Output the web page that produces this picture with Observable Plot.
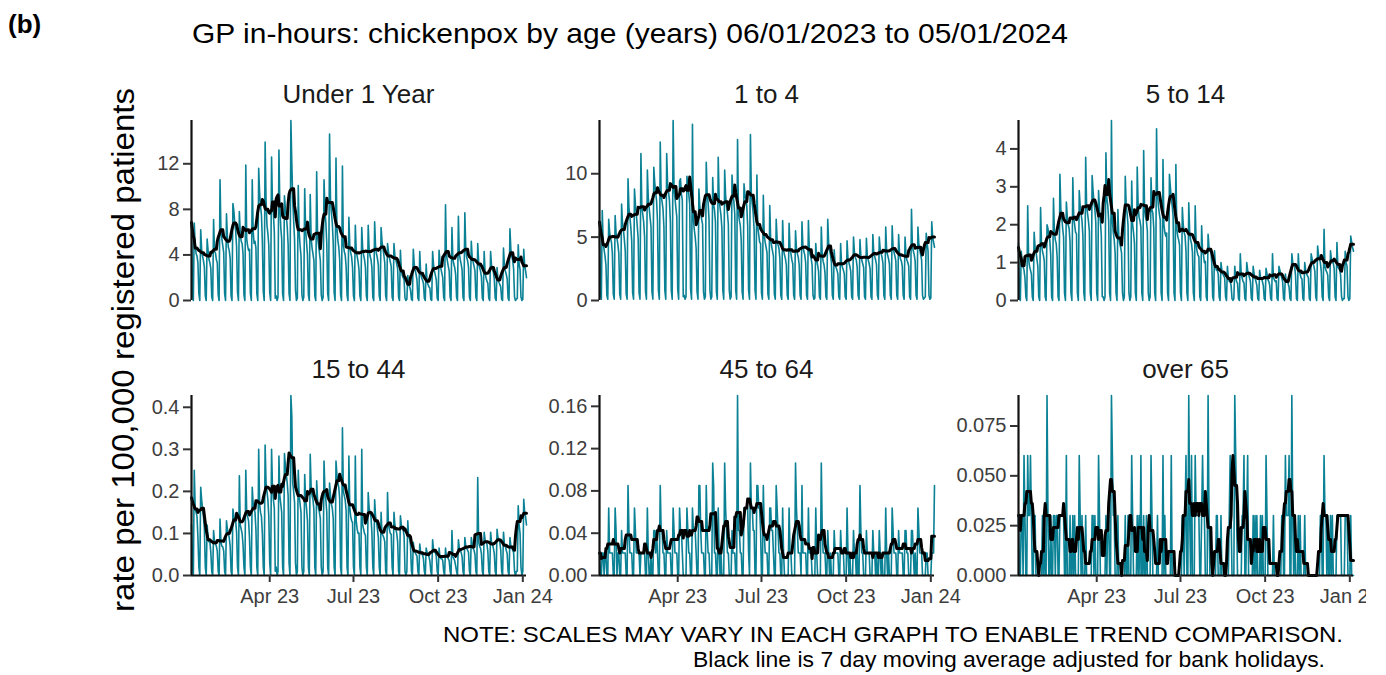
<!DOCTYPE html>
<html>
<head>
<meta charset="utf-8">
<script src="https://cdn.jsdelivr.net/npm/d3@7"></script>
<script src="https://cdn.jsdelivr.net/npm/@observablehq/plot@0.6"></script>
<style>
  html, body { margin: 0; padding: 0; background: #fff; }
  #root { position: relative; width: 1386px; height: 675px; overflow: hidden; background: #fff;
          font-family: "Liberation Sans", Arial, Helvetica, sans-serif; }
  .panel { position: absolute; overflow: hidden; }
  .panel svg text { font-size: 20px !important; font-family: "Liberation Sans", Arial, sans-serif !important; }
  #overlay { position: absolute; left: 0; top: 0; pointer-events: none; }
</style>
</head>
<body>
<div id="root"></div>
<script>
// ---------------- DATA (daily values, Fri 06/01/2023 .. Fri 05/01/2024) ----------------
// First row: Fri, Sat, Sun; then one row per week Mon..Sun; last row Mon..Fri.
const startDay = "2023-01-06";
const bankHolidays = ["2023-04-07","2023-04-10","2023-05-01","2023-05-08","2023-05-29","2023-08-28","2023-12-25","2023-12-26","2024-01-01"];

const under1 = [
6.9,0.5,0,
6.8,4.9,4.1,3.9,3.3,0.6,0,
6.2,4.5,3.9,3.5,2.9,0.4,0,
5.4,4.4,3.6,3.3,2.8,0.3,0,
7.1,4.3,4.2,3.6,3.3,0.5,0,
10.6,6.0,5.4,4.8,4.2,0.6,0,
7.6,5.6,4.7,4.4,3.7,0.4,0,
8.5,7.9,6.8,6.1,4.7,0.7,0,
7.8,5.9,5.2,5.0,4.1,0.5,0,
11.9,5.4,4.8,4.4,4.5,0.6,0,
10.6,6.1,5.0,5.2,4.6,0.6,0,
11.6,9.4,8.3,7.5,5.2,0.8,0,
13.9,8.8,6.6,5.9,4.8,0.7,0,
12.6,8.4,7.6,6.0,0.2,0.4,0,
0.3,13.2,8.2,6.4,5.4,0.6,0,
9.2,8.0,7.4,6.5,4.9,0.6,0,
15.8,12.1,8.8,7.0,5.3,0.9,0,
0.2,10.1,6.0,4.8,3.9,0.5,0,
0.3,9.8,6.2,5.1,4.0,0.5,0,
9.3,5.5,4.6,4.1,3.5,0.4,0,
11.3,5.6,4.9,4.2,3.5,0.5,0,
0.3,10.6,7.9,6.8,5.0,0.6,0,
14.6,8.9,7.7,6.8,5.0,0.7,0,
12.5,6.4,5.3,4.7,3.6,0.5,0,
11.8,4.9,4.3,4.0,3.0,0.5,0,
7.3,4.8,4.2,3.8,2.9,0.4,0,
6.6,4.4,3.9,3.4,2.7,0.4,0,
6.4,4.6,4.0,3.6,2.9,0.4,0,
6.6,4.5,3.9,3.6,2.9,0.3,0,
6.9,4.7,4.1,3.7,3.1,0.4,0,
6.4,5.2,4.6,4.0,3.3,0.4,0,
5.0,4.3,3.8,3.4,3.0,0.3,0,
5.0,3.9,3.6,3.2,2.8,0.3,0,
4.4,2.6,2.2,2.0,1.8,0.2,0,
0.1,2.2,1.4,1.2,0.9,0.1,0,
4.5,3.2,2.7,2.3,1.8,0.2,0,
4.3,2.4,2.0,1.8,1.5,0.2,0,
3.2,1.6,1.4,1.2,1.1,0.1,0,
4.3,3.1,2.6,2.2,1.8,0.2,0,
4.4,3.4,2.8,2.4,2.0,0.3,0,
8.4,4.0,3.5,3.0,2.6,0.3,0,
6.4,3.7,3.2,2.9,2.3,0.3,0,
7.4,4.1,3.6,3.2,2.7,0.3,0,
7.7,4.6,3.8,3.5,2.9,0.3,0,
5.2,3.8,3.4,3.0,2.6,0.3,0,
5.0,3.4,2.9,2.6,2.1,0.2,0,
4.3,2.5,2.0,1.7,1.5,0.2,0,
4.3,3.1,2.7,2.5,1.9,0.2,0,
2.9,1.9,1.6,1.4,1.2,0.1,0,
4.6,3.1,2.6,2.3,1.9,0.2,0,
6.3,4.5,3.9,3.5,2.8,0.3,0,
0.1,0.2,4.9,3.2,2.7,0.3,0,
0.1,4.5,3.1,2.6,2.0
];

const age1to4 = [
5.3,0.5,0.1,
7.1,4.6,4.0,3.5,2.8,0.4,0.1,
6.4,5.4,4.9,4.6,3.7,0.5,0.1,
6.7,5.3,4.9,4.4,3.7,0.5,0.1,
7.6,6.1,5.6,4.8,3.9,0.5,0.1,
9.6,7.3,6.6,5.8,4.7,0.6,0.1,
8.8,7.6,6.8,5.9,4.9,0.6,0.1,
11.6,7.4,6.8,6.2,5.0,0.7,0.1,
10.3,8.1,7.3,6.5,5.8,0.7,0.1,
10.5,9.3,8.5,7.9,6.3,0.8,0.1,
12.5,8.2,7.8,7.2,5.8,0.8,0.1,
11.6,9.2,8.6,7.9,6.2,0.8,0.1,
14.2,8.8,8.1,7.3,6.6,0.9,0.1,
9.4,9.6,8.4,7.9,0.3,0.4,0.1,
0.3,9.8,9.0,8.4,7.6,0.9,0.1,
13.9,6.4,5.6,5.0,4.1,0.7,0.1,
8.8,7.4,6.9,6.4,6.0,0.7,0.1,
0.3,10.9,8.4,7.7,6.4,0.8,0.1,
0.3,9.7,7.6,7.1,6.2,0.7,0.1,
11.3,8.0,7.3,6.7,5.7,0.8,0.1,
10.3,8.3,7.5,6.9,6.0,0.8,0.1,
0.3,9.9,8.4,7.8,6.8,0.8,0.1,
12.7,6.9,6.3,5.9,4.7,0.7,0.1,
9.2,8.4,8.0,7.5,5.9,0.8,0.1,
13.1,8.3,7.6,6.9,5.6,0.8,0.1,
9.9,5.8,5.2,4.6,4.5,0.6,0.1,
8.3,5.1,4.6,4.2,3.8,0.5,0.1,
7.5,4.8,4.3,3.9,3.5,0.5,0.1,
6.4,4.8,4.4,4.1,3.3,0.4,0.1,
6.3,4.0,3.6,3.3,2.8,0.4,0.1,
6.1,4.1,3.7,3.2,2.9,0.4,0.1,
5.5,4.1,3.7,3.4,2.8,0.4,0.1,
6.2,4.3,3.9,3.6,3.0,0.4,0.1,
6.3,4.0,3.6,3.3,2.8,0.4,0.1,
0.2,4.5,3.2,2.8,2.3,0.3,0.1,
5.8,3.6,3.1,2.8,2.2,0.3,0.1,
6.4,4.5,4.0,3.6,3.0,0.4,0.1,
4.0,2.9,2.6,2.4,2.1,0.3,0.1,
4.5,2.9,2.6,2.4,2.1,0.3,0.1,
4.7,3.3,3.0,2.7,2.3,0.3,0.1,
5.0,3.8,3.4,3.2,2.6,0.4,0.1,
4.8,3.5,3.2,2.9,2.6,0.3,0.1,
4.9,3.5,3.2,2.9,2.5,0.3,0.1,
5.2,3.8,3.5,3.2,2.8,0.4,0.1,
5.0,4.0,3.7,3.4,2.9,0.4,0.1,
5.8,3.9,3.6,3.3,2.9,0.4,0.1,
5.9,4.2,3.8,3.5,3.1,0.4,0.1,
5.2,3.7,3.3,3.1,2.7,0.4,0.1,
5.0,3.6,3.2,3.0,2.7,0.3,0.1,
7.2,4.2,3.9,3.6,3.1,0.4,0.1,
5.8,4.4,4.0,3.6,3.2,0.4,0.1,
0.2,0.3,5.3,4.5,3.9,0.4,0.1,
0.2,6.2,5.0,4.6,4.2
];

const age5to14 = [
1.5,0.1,0,
1.3,1.0,0.9,0.8,0.6,0.1,0,
2.5,1.1,0.9,0.8,0.7,0.1,0,
1.8,1.4,1.3,1.1,0.9,0.1,0,
2.45,1.5,1.3,1.2,1.05,0.1,0,
2.0,1.9,1.7,1.6,1.2,0.1,0,
2.7,1.8,1.6,1.5,1.15,0.1,0,
3.33,2.4,2.2,1.9,1.67,0.2,0,
2.6,2.2,2.0,1.9,1.55,0.2,0,
3.24,2.2,2.0,1.8,1.76,0.2,0,
2.9,2.5,2.3,2.1,1.7,0.2,0,
3.78,2.5,2.3,2.1,1.82,0.2,0,
3.3,2.9,2.6,2.4,2.05,0.2,0,
2.9,2.4,2.1,1.7,0.1,0.1,0,
0.1,3.9,2.7,2.5,2.1,0.2,0,
4.75,2.1,1.8,1.6,1.25,0.2,0,
2.4,1.7,1.5,1.4,1.25,0.2,0,
0.1,3.28,2.5,2.3,2.0,0.2,0,
0.1,3.15,2.0,1.8,1.5,0.2,0,
3.52,2.5,2.2,2.1,1.93,0.2,0,
3.96,2.4,2.2,2.1,1.84,0.2,0,
0.1,3.24,2.4,2.3,1.9,0.2,0,
4.53,2.8,2.5,2.3,2.12,0.2,0,
3.72,2.0,1.8,1.7,1.78,0.2,0,
3.33,3.0,2.7,2.5,2.22,0.2,0,
3.59,1.9,1.7,1.6,1.46,0.2,0,
2.45,2.0,1.8,1.7,1.3,0.2,0,
2.58,1.8,1.6,1.5,1.27,0.2,0,
2.5,1.5,1.3,1.2,1.15,0.1,0,
1.97,1.3,1.2,1.0,1.03,0.1,0,
1.75,1.4,1.3,1.3,1.0,0.1,0,
1.31,0.9,0.8,0.8,0.69,0.1,0,
1.0,0.8,0.7,0.65,0.6,0.1,0,
0.9,0.6,0.5,0.5,0.4,0.05,0,
0.05,0.9,0.6,0.5,0.45,0.05,0,
1.23,0.7,0.6,0.5,0.47,0.05,0,
1.0,0.8,0.7,0.6,0.5,0.05,0,
0.9,0.7,0.6,0.5,0.4,0.05,0,
0.8,0.6,0.6,0.5,0.4,0.05,0,
0.85,0.7,0.55,0.5,0.4,0.05,0,
1.23,0.6,0.55,0.5,0.52,0.05,0,
0.9,0.8,0.7,0.6,0.5,0.05,0,
0.7,0.5,0.5,0.45,0.35,0.05,0,
1.23,1.0,0.95,0.9,0.67,0.05,0,
1.23,0.8,0.7,0.6,0.57,0.05,0,
1.0,0.8,0.7,0.65,0.6,0.05,0,
1.23,1.1,1.0,0.9,0.77,0.1,0,
1.44,1.2,1.1,1.0,0.76,0.1,0,
1.88,0.9,0.8,0.75,0.67,0.1,0,
1.31,1.1,1.0,1.0,0.84,0.1,0,
1.53,0.9,0.85,0.8,0.67,0.1,0,
0.05,0.05,1.3,1.0,0.9,0.1,0,
0.05,1.7,1.55,1.4,1.3
];

const age15to44 = [
0.12,0.02,0,
0.25,0.16,0.15,0.14,0.09,0.02,0,
0.21,0.18,0.16,0.14,0.11,0.02,0,
0.12,0.09,0.08,0.08,0.055,0.01,0,
0.107,0.08,0.075,0.07,0.058,0.01,0,
0.134,0.08,0.07,0.068,0.058,0.01,0,
0.13,0.11,0.10,0.09,0.07,0.01,0,
0.158,0.14,0.13,0.13,0.102,0.02,0,
0.237,0.12,0.11,0.10,0.073,0.02,0,
0.25,0.15,0.14,0.13,0.09,0.02,0,
0.21,0.17,0.16,0.15,0.11,0.02,0,
0.30,0.17,0.15,0.14,0.10,0.02,0,
0.31,0.22,0.20,0.18,0.14,0.03,0,
0.30,0.21,0.18,0.16,0.01,0.02,0,
0.01,0.284,0.19,0.17,0.15,0.02,0,
0.29,0.26,0.24,0.22,0.19,0.03,0,
0.428,0.379,0.22,0.20,0.173,0.03,0,
0.01,0.25,0.19,0.17,0.15,0.02,0,
0.01,0.24,0.18,0.16,0.13,0.02,0,
0.288,0.21,0.19,0.18,0.157,0.02,0,
0.225,0.18,0.16,0.15,0.135,0.02,0,
0.01,0.272,0.20,0.18,0.15,0.02,0,
0.22,0.19,0.17,0.16,0.135,0.02,0,
0.272,0.24,0.22,0.21,0.183,0.02,0,
0.351,0.20,0.19,0.18,0.154,0.02,0,
0.284,0.16,0.14,0.13,0.126,0.02,0,
0.284,0.13,0.11,0.10,0.101,0.02,0,
0.30,0.12,0.11,0.10,0.095,0.02,0,
0.197,0.16,0.15,0.14,0.103,0.02,0,
0.18,0.14,0.13,0.11,0.09,0.02,0,
0.15,0.10,0.095,0.09,0.08,0.01,0,
0.197,0.12,0.11,0.10,0.098,0.02,0,
0.15,0.12,0.11,0.10,0.08,0.01,0,
0.142,0.12,0.11,0.11,0.093,0.01,0,
0.01,0.13,0.09,0.09,0.07,0.01,0,
0.079,0.06,0.055,0.05,0.046,0.01,0,
0.075,0.055,0.05,0.05,0.04,0.01,0,
0.065,0.055,0.05,0.045,0.035,0.01,0,
0.085,0.06,0.055,0.055,0.045,0.01,0,
0.065,0.045,0.04,0.04,0.035,0.01,0,
0.065,0.045,0.045,0.04,0.035,0.01,0,
0.107,0.045,0.04,0.035,0.023,0.01,0,
0.085,0.065,0.06,0.055,0.045,0.01,0,
0.09,0.07,0.065,0.06,0.055,0.01,0,
0.09,0.075,0.065,0.06,0.05,0.01,0,
0.233,0.08,0.07,0.065,0.052,0.01,0,
0.103,0.085,0.08,0.075,0.057,0.01,0,
0.103,0.08,0.075,0.065,0.052,0.01,0,
0.11,0.09,0.085,0.08,0.06,0.01,0,
0.103,0.075,0.07,0.06,0.052,0.01,0,
0.09,0.07,0.065,0.06,0.055,0.01,0,
0.01,0.01,0.166,0.12,0.10,0.02,0,
0.01,0.181,0.15,0.14,0.12
];

// 45 to 64 and over 65: daily case counts and the rate that one case represents
const ratePerCase45to64 = 0.02128;
const cases45to64 = [
1,0,0,
1,1,0,1,1,0,0,
3,1,1,1,1,0,0,
3,2,0,1,1,0,0,
2,1,1,1,1,0,0,
4,2,1,1,1,0,0,
3,2,1,1,1,1,0,
1,1,1,1,1,0,0,
3,1,0,0,1,0,0,
2,2,1,2,1,0,0,
4,2,2,1,1,0,0,
2,1,1,1,1,0,0,
3,2,1,1,1,0,0,
3,2,2,1,0,0,0,
0,3,2,1,1,0,0,
3,2,2,2,1,0,0,
4,4,2,1,1,1,0,
0,4,2,1,1,0,0,
0,5,4,1,1,0,0,
3,1,0,1,0,0,0,
5,3,2,1,1,0,0,
0,2,1,1,1,0,0,
8,2,2,1,1,0,0,
3,3,3,3,3,1,0,
5,3,3,2,2,0,0,
4,4,3,3,2,0,0,
4,2,1,1,1,0,0,
3,3,2,2,1,0,0,
4,3,2,1,1,0,0,
3,1,0,0,0,0,0,
3,1,1,0,0,0,0,
5,3,2,1,1,1,0,
4,1,1,1,1,0,0,
3,1,1,1,0,0,0,
0,3,1,0,0,0,0,
5,2,1,1,1,0,0,
2,1,0,1,0,0,0,
2,1,1,1,1,0,0,
2,1,1,1,0,0,0,
3,1,0,1,0,0,0,
2,1,1,0,1,0,0,
4,2,1,1,0,0,0,
2,1,1,1,0,0,0,
2,1,1,0,1,0,0,
2,1,0,1,0,0,0,
3,1,0,1,0,0,0,
3,2,1,1,1,0,0,
2,1,1,1,1,0,0,
2,2,1,1,0,0,0,
2,2,1,0,1,0,0,
3,2,1,1,1,0,0,
0,0,1,1,0,0,0,
0,1,1,1,4
];

const ratePerCaseOver65 = 0.0301;
const casesOver65 = [
1,0,0,
1,1,0,2,1,0,0,
2,1,1,2,1,0,0,
1,1,0,0,0,0,0,
0,0,1,0,1,0,0,
3,1,0,0,1,0,0,
1,1,0,1,1,0,0,
1,1,1,1,1,0,0,
2,0,0,0,1,0,0,
1,0,1,0,0,0,0,
2,1,0,1,0,0,0,
1,0,0,0,0,0,0,
1,1,0,1,0,0,0,
2,1,0,0,0,0,0,
0,1,0,1,1,0,0,
3,2,1,1,0,0,0,
1,0,0,0,0,0,0,
0,1,0,0,1,0,0,
0,2,1,0,0,0,0,
1,0,1,0,2,0,0,
1,0,0,1,0,0,0,
0,2,1,0,0,0,0,
0,1,0,0,0,0,0,
2,0,1,0,0,0,0,
0,0,2,0,0,0,0,
0,0,0,0,0,0,0,
1,1,0,1,2,0,0,
3,1,0,2,0,0,0,
2,1,1,1,1,0,0,
1,2,1,1,0,0,0,
3,1,0,0,0,0,0,
0,0,1,1,0,0,0,
1,0,0,0,0,0,0,
0,0,1,2,1,0,0,
0,3,2,1,0,0,0,
0,0,1,1,2,0,0,
1,2,0,0,0,0,0,
1,0,1,0,1,0,0,
0,1,0,1,0,0,0,
2,1,0,0,0,0,0,
0,1,0,0,0,0,0,
0,0,0,1,1,0,0,
2,1,1,1,2,0,0,
3,1,0,1,0,0,0,
1,0,1,0,0,0,0,
1,0,0,0,0,0,0,
0,0,0,0,0,0,0,
0,0,0,1,1,0,0,
2,1,1,0,1,0,0,
1,0,1,0,0,0,0,
1,1,1,1,1,0,0,
0,0,1,1,1,0,0,
0,1,0,0,0
];

const panelNames = ["Under 1 Year", "1 to 4", "5 to 14", "15 to 44", "45 to 64", "over 65"];
const yTicks = [[0,4,8,12],[0,5,10],[0,1,2,3,4],[0,0.1,0.2,0.3,0.4],[0,0.04,0.08,0.12,0.16],[0,0.025,0.05,0.075]];
const yTickFormats = ["d","d","d",".1f",".2f",".3f"];
const xTickDates = ["2023-04-01","2023-07-01","2023-10-01","2024-01-01"];
const xTickLabels = ["Apr 23","Jul 23","Oct 23","Jan 24"];

// ---------------- BUILD ----------------
const root = document.getElementById("root");
const teal = "#0a8195";
const start = new Date(startDay + "T00:00:00Z");
const N = 365;
const dates = d3.range(N).map(i => d3.utcDay.offset(start, i));
const end = dates[N - 1];
const holidaySet = new Set(bankHolidays.map(s => +new Date(s + "T00:00:00Z")));
const isWorkday = d => { const w = d.getUTCDay(); return w !== 0 && w !== 6 && !holidaySet.has(+d); };
const xTicks = xTickDates.map(s => new Date(s + "T00:00:00Z"));

const series = [
  under1, age1to4, age5to14, age15to44,
  cases45to64.map(c => c * ratePerCase45to64),
  casesOver65.map(c => c * ratePerCaseOver65)
];

// 7 day moving average over working days only (weekends / bank holidays excluded)
function movingAverage(vals) {
  return vals.map((v, i) => {
    const w = [];
    for (let j = i - 3; j <= i + 3; j++) {
      if (j < 0 || j >= vals.length) continue;
      if (isWorkday(dates[j])) w.push(vals[j]);
    }
    return w.length ? d3.mean(w) : null;
  });
}

const colLeft = [191, 599, 1018];
const rowTop = [120, 395];
const plotW = 335, plotH = 180;
const mL = 66, mT = 10;

series.forEach((vals, k) => {
  const col = k % 3, row = Math.floor(k / 3);
  const mR = col === 2 ? 13 : 34;
  const mB = row === 1 ? 42 : 10;
  const rows = vals.map((v, i) => ({date: dates[i], value: v}));
  const ma = movingAverage(vals);
  const maRows = ma.map((v, i) => ({date: dates[i], ma: v}));
  const marks = [
    Plot.lineY(rows, {x: "date", y: "value", stroke: teal, strokeWidth: 1.6}),
    Plot.lineY(maRows, {x: "date", y: "ma", stroke: "#000", strokeWidth: 3, strokeLinejoin: "round"}),
    Plot.ruleX([start], {stroke: "#111", strokeWidth: 2.2}),
    Plot.axisY({ticks: yTicks[k], tickFormat: d3.format(yTickFormats[k]), tickSize: 8, tickPadding: 4,
                fontSize: 20, stroke: "#333", strokeWidth: 2, fill: "#3d3d3d"})
  ];
  if (row === 1) {
    marks.push(Plot.ruleY([0], {stroke: "#111", strokeWidth: 2.2}));
    marks.push(Plot.axisX({ticks: xTicks,
      tickFormat: (d) => xTickLabels[xTicks.findIndex(t => +t === +d)],
      tickSize: 7, tickPadding: 6, fontSize: 20, stroke: "#333", strokeWidth: 2, fill: "#3d3d3d"}));
  }
  const chart = Plot.plot({
    width: mL + plotW + mR,
    height: mT + plotH + mB,
    marginLeft: mL, marginRight: mR, marginTop: mT, marginBottom: mB,
    style: {fontFamily: "'Liberation Sans', Arial, sans-serif", fontSize: "20px", background: "transparent", overflow: "hidden"},
    x: {type: "utc", domain: [start, end], axis: row === 1 ? undefined : null},
    y: {domain: [0, d3.max(vals)]},
    marks
  });
  const div = document.createElement("div");
  div.className = "panel";
  div.style.left = (colLeft[col] - mL) + "px";
  div.style.top = (rowTop[row] - mT) + "px";
  div.style.width = (mL + plotW + mR) + "px";
  div.style.height = (mT + plotH + mB) + "px";
  div.appendChild(chart);
  root.appendChild(div);
});

// ---------------- TEXT OVERLAY ----------------
const svg = d3.select(root).append("svg").attr("id", "overlay")
  .attr("width", 1386).attr("height", 675)
  .style("font-family", "'Liberation Sans', Arial, sans-serif");

svg.append("text").attr("x", 8).attr("y", 33).attr("font-size", 26).attr("font-weight", "bold")
  .attr("fill", "#000").text("(b)");
svg.append("text").attr("x", 192).attr("y", 43).attr("font-size", 28).attr("fill", "#000")
  .attr("textLength", 876).attr("lengthAdjust", "spacingAndGlyphs")
  .text("GP in-hours: chickenpox by age (years) 06/01/2023 to 05/01/2024");

panelNames.forEach((name, k) => {
  const col = k % 3, row = Math.floor(k / 3);
  svg.append("text").attr("x", colLeft[col] + plotW / 2).attr("y", row === 0 ? 103 : 378)
    .attr("text-anchor", "middle").attr("font-size", 26).attr("fill", "#1a1a1a").text(name);
});

svg.append("text").attr("transform", "translate(134,350) rotate(-90)")
  .attr("text-anchor", "middle").attr("font-size", 32).attr("fill", "#000")
  .attr("textLength", 524).attr("lengthAdjust", "spacingAndGlyphs")
  .text("rate per 100,000 registered patients");

svg.append("text").attr("x", 443).attr("y", 642).attr("font-size", 22).attr("fill", "#000")
  .attr("textLength", 900).attr("lengthAdjust", "spacingAndGlyphs")
  .text("NOTE: SCALES MAY VARY IN EACH GRAPH TO ENABLE TREND COMPARISON.");
svg.append("text").attr("x", 693).attr("y", 667).attr("font-size", 22).attr("fill", "#000")
  .attr("textLength", 632).attr("lengthAdjust", "spacingAndGlyphs")
  .text("Black line is 7 day moving average adjusted for bank holidays.");

// sanity check on data lengths
series.forEach((v, k) => { if (v.length !== N) svg.append("text").attr("x", 10).attr("y", 660 - 14 * k)
  .attr("fill", "red").attr("font-size", 12).text(panelNames[k] + " length " + v.length); });
</script>
</body>
</html>
